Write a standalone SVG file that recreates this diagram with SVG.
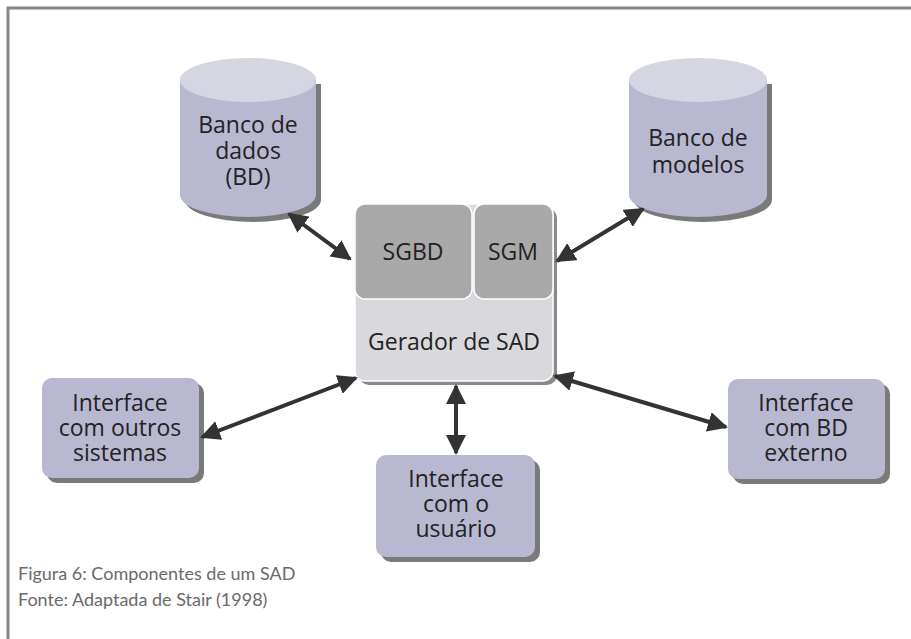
<svg xmlns="http://www.w3.org/2000/svg" width="911" height="639" viewBox="0 0 911 639">
<style>
.t{font-family:"Open Sans","Liberation Sans",sans-serif;font-size:23px;fill:#222;text-anchor:middle}
.cap{font-family:"Lato","Open Sans",sans-serif;font-size:18px;fill:#6a6a6a}
.shadow{fill:#7a7a7a}
.node{fill:#b8b8d0}
.top{fill:#d6d6e2}
.conn{stroke:#333;stroke-width:4;fill:none;marker-start:url(#a);marker-end:url(#a)}
</style>
<defs>
<marker id="a" viewBox="0 0 10 10" refX="9" refY="5" markerWidth="5" markerHeight="5" orient="auto-start-reverse" markerUnits="strokeWidth">
<path d="M0,0 L10,5 L0,10 z" fill="#333"/>
</marker>
</defs>
<rect width="911" height="639" fill="#fff"/>
<path d="M8,639 V8 H911" fill="none" stroke="#888" stroke-width="3"/>

<g id="bd">
<path class="shadow" d="M185,84 V200 A68,22 0 0 0 321,200 V84 Z"/>
<path class="node" d="M180,80 V195 A68,22 0 0 0 316,195 V80 Z"/>
<ellipse class="top" cx="248" cy="80" rx="68" ry="22"/>
<text class="t"><tspan x="248" y="133">Banco de</tspan><tspan x="248" y="159">dados</tspan><tspan x="248" y="185">(BD)</tspan></text>
</g>

<g id="bm">
<path class="shadow" d="M634,84 V200 A69,22 0 0 0 772,200 V84 Z"/>
<path class="node" d="M629,80 V195 A69,22 0 0 0 767,195 V80 Z"/>
<ellipse class="top" cx="698" cy="80" rx="69" ry="22"/>
<text class="t"><tspan x="698" y="146">Banco de</tspan><tspan x="698" y="173">modelos</tspan></text>
</g>

<g id="gerador">
<rect x="359" y="208" width="198" height="177" rx="10" fill="#8a8a8a"/>
<rect x="355" y="204" width="198" height="177" rx="10" fill="#d9d9dd" stroke="#fff" stroke-width="1.5"/>
<rect x="355" y="204" width="117" height="95" rx="10" fill="#a9a9a9" stroke="#fff" stroke-width="1.5"/>
<rect x="474" y="204" width="79" height="95" rx="10" fill="#a9a9a9" stroke="#fff" stroke-width="1.5"/>
<text class="t" x="413" y="260">SGBD</text>
<text class="t" x="513" y="260">SGM</text>
<text class="t" x="454" y="350">Gerador de SAD</text>
</g>

<g id="outros">
<rect x="47" y="383" width="157" height="100" rx="10" class="shadow"/>
<rect x="42" y="378" width="157" height="100" rx="10" class="node"/>
<text class="t"><tspan x="120" y="411">Interface</tspan><tspan x="120" y="436">com outros</tspan><tspan x="120" y="461">sistemas</tspan></text>
</g>

<g id="usuario">
<rect x="381" y="460" width="159" height="102" rx="10" class="shadow"/>
<rect x="376" y="455" width="159" height="102" rx="10" class="node"/>
<text class="t"><tspan x="456" y="487">Interface</tspan><tspan x="456" y="512">com o</tspan><tspan x="456" y="537">usuário</tspan></text>
</g>

<g id="externo">
<rect x="733" y="384" width="157" height="100" rx="10" class="shadow"/>
<rect x="728" y="379" width="157" height="100" rx="10" class="node"/>
<text class="t"><tspan x="806" y="411">Interface</tspan><tspan x="806" y="436">com BD</tspan><tspan x="806" y="461">externo</tspan></text>
</g>

<g id="connectors">
<line class="conn" x1="289" y1="214" x2="350" y2="259"/>
<line class="conn" x1="557" y1="261" x2="643" y2="209"/>
<line class="conn" x1="202" y1="437" x2="356" y2="378"/>
<line class="conn" x1="555" y1="376" x2="726" y2="427"/>
<line class="conn" x1="456" y1="386" x2="456" y2="453"/>
</g>

<text class="cap" x="18" y="580">Figura 6: Componentes de um SAD</text>
<text class="cap" x="18" y="606">Fonte: Adaptada de Stair (1998)</text>
</svg>
